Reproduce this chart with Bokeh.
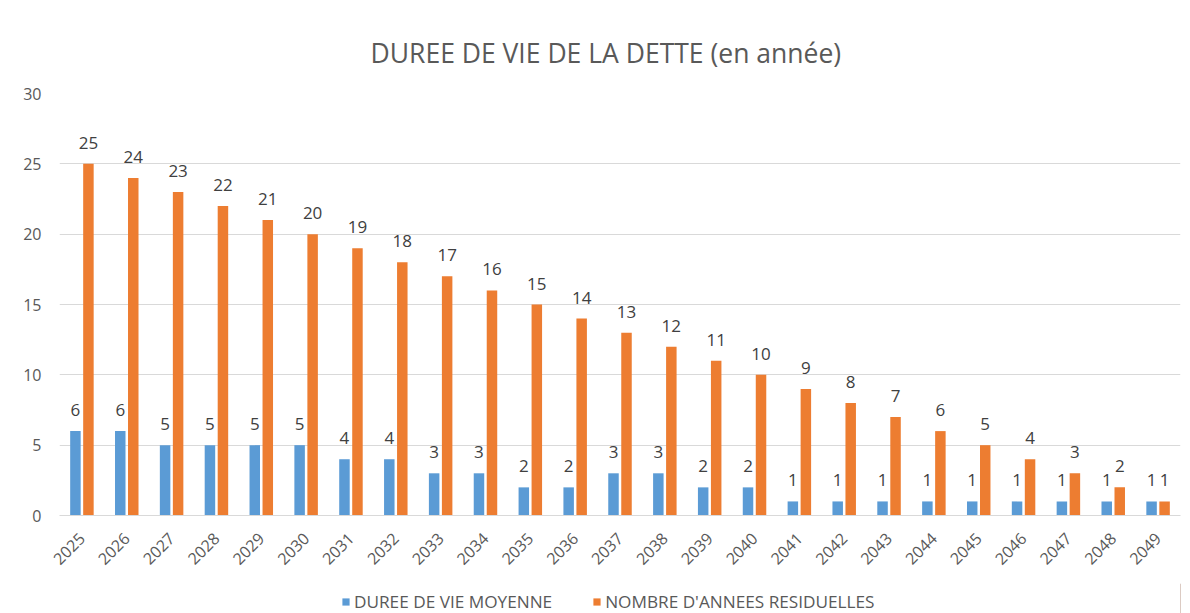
import math
from bokeh.plotting import figure
from bokeh.layouts import column
from bokeh.models import ColumnDataSource, FactorRange, Range1d, Legend, LegendItem, SingleIntervalTicker
from bokeh.transform import dodge
from bokeh.embed import file_html
from bokeh.resources import INLINE
from bokeh.core.properties import value

years = ["2025", "2026", "2027", "2028", "2029", "2030", "2031", "2032", "2033", "2034",
         "2035", "2036", "2037", "2038", "2039", "2040", "2041", "2042", "2043", "2044",
         "2045", "2046", "2047", "2048", "2049"]
duree_moyenne = [6, 6, 5, 5, 5, 5, 4, 4, 3, 3, 2, 2, 3, 3, 2, 2, 1, 1, 1, 1, 1, 1, 1, 1, 1]
annees_residuelles = [25, 24, 23, 22, 21, 20, 19, 18, 17, 16, 15, 14, 13, 12, 11, 10,
                      9, 8, 7, 6, 5, 4, 3, 2, 1]
series_names = ["DUREE DE VIE MOYENNE", "NOMBRE D'ANNEES RESIDUELLES"]
title_text = "DUREE DE VIE DE LA DETTE (en année)"

BLUE = "#5B9BD5"
ORANGE = "#ED7D31"
TXT = "#595959"
FONT = "Open Sans"

src = ColumnDataSource(dict(
    year=years,
    a=duree_moyenne,
    b=annees_residuelles,
    a_lab=[str(v) for v in duree_moyenne],
    b_lab=[str(v) for v in annees_residuelles],
))

p = figure(width=1190, height=583, x_range=FactorRange(*years, range_padding=0),
           y_range=Range1d(0, 30), output_backend="svg", toolbar_location=None,
           min_border_left=59, min_border_right=10, min_border_top=93, min_border_bottom=68)

p.title.text = title_text
p.title.align = "left"
p.title.text_font = FONT
p.title.text_font_style = "normal"
p.title.text_font_size = "26.5px"
p.title.text_color = TXT
p.title.offset = 311
p.title.standoff = 46

off = 0.145
w = 0.234
r1 = p.vbar(x=dodge("year", -off, range=p.x_range), top="a", width=w, source=src,
            fill_color=BLUE, line_color=None)
r2 = p.vbar(x=dodge("year", off, range=p.x_range), top="b", width=w, source=src,
            fill_color=ORANGE, line_color=None)

p.text(x=dodge("year", -off, range=p.x_range), y="a", text="a_lab", source=src,
       text_align="center", text_baseline="alphabetic", y_offset=-21,
       text_font=value(FONT), text_font_size="17px", text_color="#404040")
p.text(x=dodge("year", off, range=p.x_range), y="b", text="b_lab", source=src,
       text_align="center", text_baseline="alphabetic", y_offset=-21,
       text_font=value(FONT), text_font_size="17px", text_color="#404040")

p.yaxis.ticker = SingleIntervalTicker(interval=5)
p.yaxis.axis_line_color = None
p.yaxis.major_tick_line_color = None
p.yaxis.minor_tick_line_color = None
p.yaxis.major_label_text_font = FONT
p.yaxis.major_label_text_font_size = "16px"
p.yaxis.major_label_text_color = TXT
p.yaxis.major_label_standoff = 12

p.xaxis.axis_line_color = "#D9D9D9"
p.xaxis.major_tick_line_color = None
p.xaxis.minor_tick_line_color = None
p.xaxis.major_label_orientation = math.pi / 4
p.xaxis.major_label_text_font = FONT
p.xaxis.major_label_text_font_size = "16px"
p.xaxis.major_label_text_color = TXT
p.xaxis.major_label_standoff = 14

p.xgrid.visible = False
p.ygrid.grid_line_color = "#D9D9D9"
p.outline_line_color = None

# legend strip below the chart (its frame is aligned with the chart frame)
lg = figure(width=1190, height=30, x_range=Range1d(0, 1), y_range=Range1d(0, 1),
            output_backend="svg", toolbar_location=None, min_border=0)
lg.axis.visible = False
lg.grid.visible = False
lg.outline_line_color = None
# key swatches: one bar each, kept outside the visible range
k1 = lg.vbar(x=[5], top=[1], width=0.1, fill_color=BLUE, line_color=None)
k2 = lg.vbar(x=[5], top=[1], width=0.1, fill_color=ORANGE, line_color=None)

legend = Legend(items=[LegendItem(label=series_names[0], renderers=[k1]),
                       LegendItem(label=series_names[1], renderers=[k2])],
                orientation="horizontal", location=(282, 0))
legend.label_text_font = FONT
legend.label_text_font_size = "17.2px"
legend.label_text_color = TXT
legend.glyph_width = 9
legend.glyph_height = 9
legend.spacing = 40
legend.label_standoff = 4
legend.border_line_color = None
legend.background_fill_alpha = 0
legend.padding = 0
legend.margin = 0
lg.add_layout(legend, "center")

layout = column(p, lg, spacing=0)
open("out.html", "w").write(file_html(layout, INLINE))
